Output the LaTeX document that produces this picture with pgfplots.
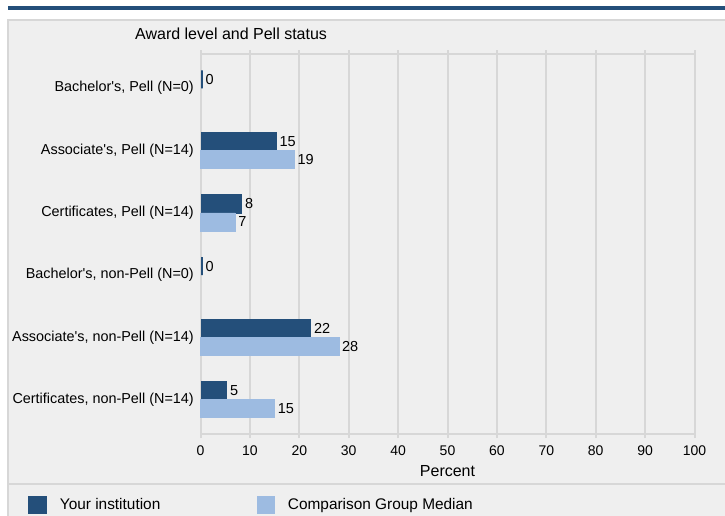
\documentclass[border=0pt]{standalone}
\usepackage{pgfplots}
\pgfplotsset{compat=1.18}
\usepackage{fontspec}
\setmainfont{Liberation Sans}[Ligatures=TeXOff]

\definecolor{instblue}{HTML}{244F7A}
\definecolor{cmpblue}{HTML}{9DBBE1}
\definecolor{panelbg}{HTML}{EFEFEF}
\definecolor{rulegray}{HTML}{D7D7D7}

\begin{document}
\begin{tikzpicture}
\useasboundingbox (0,0) rectangle (725pt,515pt);
\fill[white] (0,0) rectangle (725pt,515pt);
\fill[instblue] (8pt,505.3pt) rectangle (725pt,509.3pt);
\fill[panelbg] (8pt,-2pt) rectangle (727pt,495pt);
\draw[rulegray, line width=2pt] (8pt,-2pt) -- (8pt,495pt) -- (727pt,495pt);
\draw[rulegray, line width=2pt] (8pt,31pt) -- (727pt,31pt);

\begin{axis}[
    at={(200.5pt,81pt)}, anchor=south west,
    scale only axis, width=494pt, height=380pt,
    clip=false,
    xbar, bar width=18pt,
    xmin=0, xmax=100, ymin=-0.55, ymax=5.55, y dir=reverse,
    xtick={0,10,...,100}, ytick={0,1,2,3,4,5},
    yticklabels={Bachelor's{,} Pell (N=0), Associate's{,} Pell (N=14),
        Certificates{,} Pell (N=14), Bachelor's{,} non-Pell (N=0),
        Associate's{,} non-Pell (N=14), Certificates{,} non-Pell (N=14)},
    separate axis lines,
    x axis line style={rulegray, line width=2pt},
    y axis line style={draw=none},
    xmajorgrids, grid style={rulegray, line width=2pt},
    xtick style={rulegray, line width=2pt}, xtick align=center,
    major tick length=8pt,
    ytick style={draw=none},
    /pgf/number format/assume math mode=true,
    xticklabel style={font=\fontsize{14}{16}\selectfont, anchor=center, yshift=-13pt},
    yticklabel style={font=\fontsize{14.4}{16}\selectfont, anchor=east, inner sep=0pt, xshift=1.5pt},
    title={Award level and Pell status},
    title style={at={(axis description cs:-0.1326,1.038)}, anchor=west,
        font=\fontsize{16}{18}\selectfont, inner sep=0pt},
    xlabel={Percent},
    xlabel style={at={(axis description cs:0.5,-0.097)}, anchor=center,
        font=\fontsize{16}{18}\selectfont, inner sep=0pt},
    point meta=x,
    nodes near coords, nodes near coords align={horizontal},
    every node near coord/.append style={font=\fontsize{14.5}{16}\selectfont,
        text=black, anchor=west, inner sep=3pt},
    legend columns=2,
    legend cell align=left,
    legend style={at={(axis description cs:-0.349,-0.1868)}, anchor=west,
        draw=none, fill=none, inner sep=0pt, nodes={inner sep=0pt},
        font=\fontsize{15.4}{17}\selectfont,
        /tikz/every odd column/.append style={column sep=13pt},
        /tikz/every even column/.append style={column sep=97pt}},
    legend image code/.code={\fill[#1] (0pt,-8.5pt) rectangle (17pt,8.5pt);},
]
% Your institution
\addplot[fill=instblue, draw=instblue, line width=1.6pt, bar shift=9pt, xshift=1.2pt]
    coordinates {(0,0) (15,1) (8,2) (0,3) (22,4) (5,5)};
% Comparison group median (no Bachelor's)
\addplot[fill=cmpblue, draw=cmpblue, line width=0.6pt, bar shift=-9pt]
    coordinates {(19,1) (7,2) (28,4) (15,5)};
\legend{Your institution, Comparison Group Median}
\end{axis}
\end{tikzpicture}
\end{document}
